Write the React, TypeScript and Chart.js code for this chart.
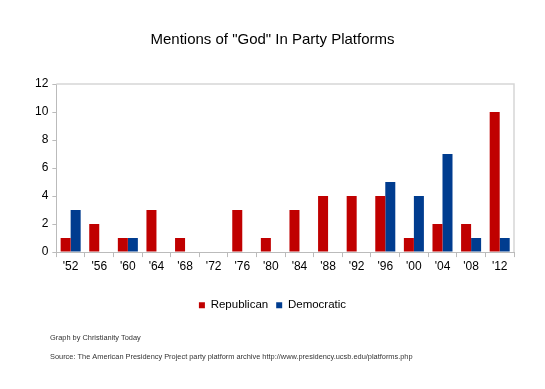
import React, { useEffect, useRef } from "react";
import { Chart, registerables } from "chart.js";

Chart.register(...registerables);

const years = ["'52", "'56", "'60", "'64", "'68", "'72", "'76", "'80", "'84", "'88", "'92", "'96", "'00", "'04", "'08", "'12"];
const republican = [1, 2, 1, 3, 1, 0, 3, 1, 3, 4, 4, 4, 1, 2, 2, 10];
const democratic = [3, 0, 1, 0, 0, 0, 0, 0, 0, 0, 0, 5, 4, 7, 1, 1];
const titleText = 'Mentions of "God" In Party Platforms';
const footerLines = [
  "Graph by Christianity Today",
  "Source: The American Presidency Project party platform archive http://www.presidency.ucsb.edu/platforms.php",
];

const FONT = "'Liberation Sans', Arial, Helvetica, sans-serif";

const framePlugin = {
  id: "frame",
  beforeDatasetsDraw(chart: any) {
    const { ctx, chartArea } = chart;
    ctx.save();
    ctx.strokeStyle = "#d6d6d6";
    ctx.lineWidth = 1.5;
    ctx.beginPath();
    ctx.moveTo(chartArea.left, chartArea.top);
    ctx.lineTo(chartArea.right, chartArea.top);
    ctx.lineTo(chartArea.right, chartArea.bottom);
    ctx.stroke();
    ctx.restore();
  },
  afterDraw(chart: any) {
    const { ctx } = chart;
    ctx.save();
    ctx.fillStyle = "#333";
    ctx.font = `7.4px ${FONT}`;
    ctx.textBaseline = "middle";
    ctx.textAlign = "left";
    ctx.fillText(footerLines[0], 50, 338);
    ctx.fillText(footerLines[1], 50, 357);
    ctx.restore();
  },
};

export default function App() {
  const ref = useRef<HTMLCanvasElement>(null);
  useEffect(() => {
    if (!ref.current) return;
    const chart = new Chart(ref.current, {
      type: "bar",
      data: {
        labels: years,
        datasets: [
          { label: "Republican", data: republican, backgroundColor: "#c00000", borderWidth: 0 },
          { label: "Democratic", data: democratic, backgroundColor: "#003c8f", borderWidth: 0 },
        ],
      },
      options: {
        responsive: false,
        animation: false,
        layout: { padding: { left: 31, right: 31, top: 0, bottom: 68 } },
        plugins: {
          title: {
            display: true,
            text: titleText,
            color: "#000",
            font: { family: FONT, size: 15, weight: "normal" },
            padding: { top: 31, bottom: 35 },
          },
          legend: {
            position: "bottom",
            labels: {
              color: "#000",
              font: { family: FONT, size: 11.5 },
              boxWidth: 6,
              boxHeight: 6,
              padding: 8,
            },
          },
          tooltip: { enabled: false },
        },
        scales: {
          x: {
            grid: { display: true, drawOnChartArea: false, tickLength: 5, color: "#bbb", offset: true },
            border: { display: true, color: "#bbb" },
            ticks: { color: "#000", font: { family: FONT, size: 12 }, maxRotation: 0, padding: 2 },
            afterFit(scale: any) {
              scale.height += 16;
            },
          },
          y: {
            min: 0,
            max: 12,
            ticks: { stepSize: 2, color: "#000", font: { family: FONT, size: 12 }, padding: 4 },
            grid: { display: true, drawOnChartArea: false, tickLength: 4, color: "#bbb" },
            border: { display: true, color: "#bbb" },
          },
        },
        datasets: { bar: { categoryPercentage: 0.7, barPercentage: 1 } },
      } as any,
      plugins: [framePlugin],
    });
    return () => chart.destroy();
  }, []);
  return (
    <div style={{ position: "fixed", left: 0, top: 0, width: 545, height: 389, background: "#fff" }}>
      <canvas ref={ref} width={545} height={389} style={{ display: "block" }} />
    </div>
  );
}
